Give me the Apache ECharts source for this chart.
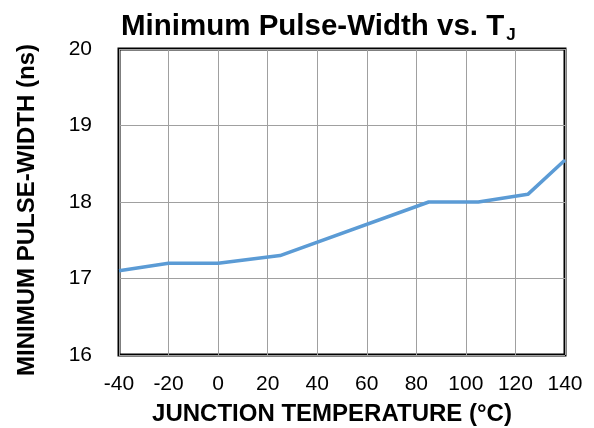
<!DOCTYPE html>
<html>
<head>
<meta charset="utf-8">
<script src="https://cdn.jsdelivr.net/npm/echarts@6/dist/echarts.min.js"></script>
<style>
  html, body { margin: 0; padding: 0; background: #fff; }
  #chart { width: 594px; height: 428px; }
</style>
</head>
<body>
<div id="chart"></div>
<script>
// junction temperature (°C) and minimum pulse-width (ns)
const tempC = [-40, -20, 0, 25, 85, 105, 125, 140];
const pulseNs = [17.1, 17.2, 17.2, 17.3, 18.0, 18.0, 18.1, 18.55];
const xTicks = { min: -40, max: 140, step: 20 };
const yTicks = { min: 16, max: 20, step: 1 };

const chart = echarts.init(document.getElementById('chart'));
const font = 'Liberation Sans, Arial, sans-serif';

const option = {
  animation: false,
  title: {
    text: '{a|Minimum Pulse-Width vs. T}{b|J}',
    left: 116,
    top: 4,
    textStyle: {
      rich: {
        a: { fontFamily: font, fontSize: 29.5, fontWeight: 'bold', color: '#000', lineHeight: 36 },
        b: { fontFamily: font, fontSize: 17, fontWeight: 'bold', color: '#000', lineHeight: 36, padding: [17, 0, 0, 2] }
      }
    }
  },
  grid: {
    left: 119,
    right: 29,
    top: 49,
    bottom: 73,
    show: true,
    borderColor: '#000',
    borderWidth: 3,
    outerBoundsMode: 'none',
    containLabel: false
  },
  xAxis: {
    type: 'value',
    min: xTicks.min,
    max: xTicks.max,
    interval: xTicks.step,
    name: 'JUNCTION TEMPERATURE (°C)',
    nameLocation: 'middle',
    nameGap: 47,
    nameTextStyle: { fontFamily: font, fontSize: 24, fontWeight: 'bold', color: '#000', padding: [0, 20, 0, 0] },
    axisLine: { show: false },
    axisTick: { show: false },
    axisLabel: { fontFamily: font, fontSize: 21, color: '#000', margin: 19 },
    splitLine: { show: true, lineStyle: { color: '#a0a0a0', width: 1 } }
  },
  yAxis: {
    type: 'value',
    min: yTicks.min,
    max: yTicks.max,
    interval: yTicks.step,
    name: 'MINIMUM PULSE-WIDTH (ns)',
    nameLocation: 'middle',
    nameGap: 80,
    nameTextStyle: { fontFamily: font, fontSize: 24, fontWeight: 'bold', color: '#000', padding: [0, 16, 0, 0] },
    axisLine: { show: false },
    axisTick: { show: false },
    axisLabel: { fontFamily: font, fontSize: 21, color: '#000', margin: 27 },
    splitLine: { show: true, lineStyle: { color: '#a0a0a0', width: 1 } }
  },
  series: [
    {
      type: 'line',
      data: tempC.map((t, i) => [t, pulseNs[i]]),
      showSymbol: false,
      clip: true,
      lineStyle: { color: '#5b9bd5', width: 3.5 }
    }
  ]
};

chart.setOption(option);
window.addEventListener('resize', function () {
  chart.resize();
});
</script>
</body>
</html>
